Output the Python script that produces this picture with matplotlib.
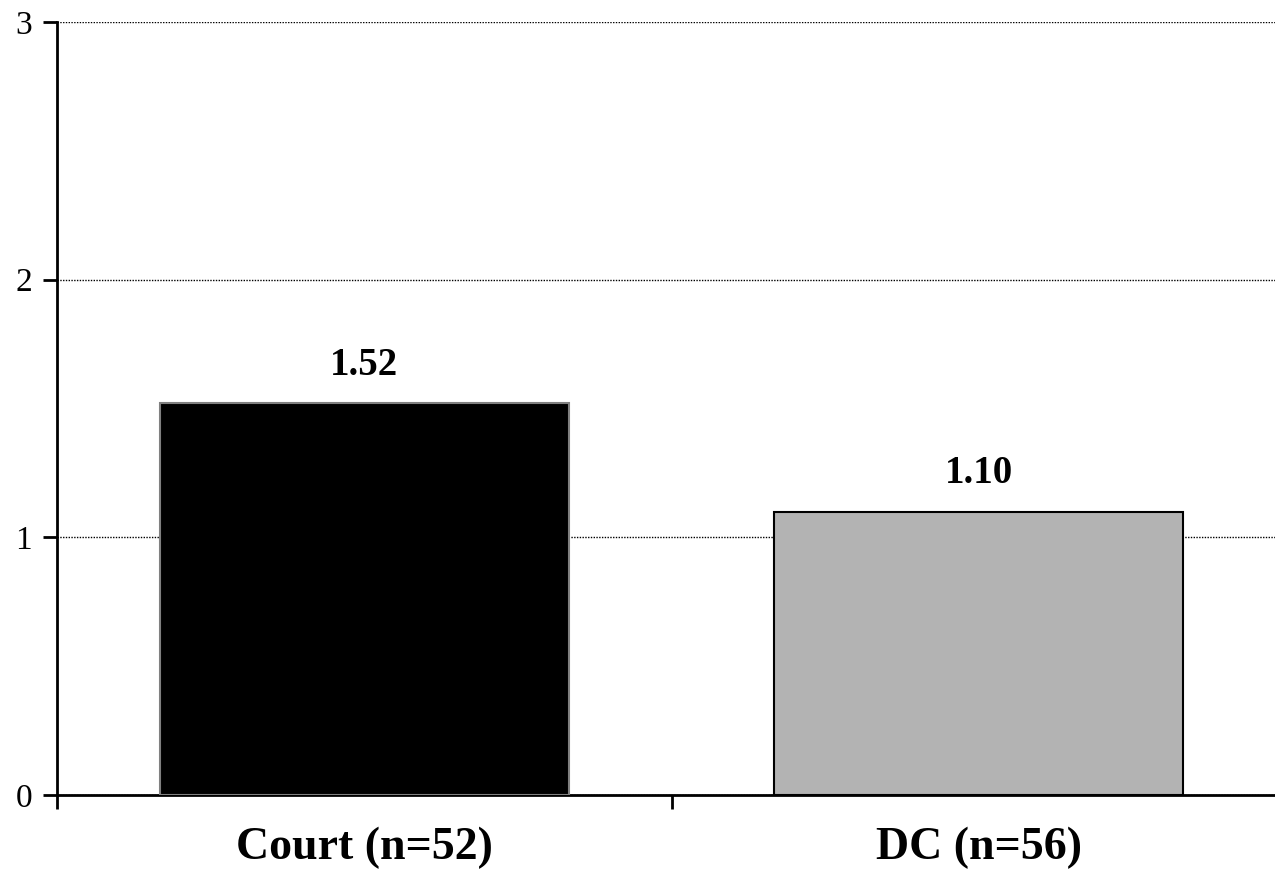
import matplotlib.pyplot as plt

plt.rcParams['font.family'] = ['Liberation Serif', 'DejaVu Serif']

# 数据
categories = ['Court (n=52)', 'DC (n=56)']
values = [1.52, 1.10]
bar_colors = ['#000000', '#b3b3b3']
edge_colors = ['#808080', '#000000']
value_labels = ['1.52', '1.10']
y_ticks = [0, 1, 2, 3]

fig = plt.figure(figsize=(12.75, 8.83), dpi=100)
ax = fig.add_axes([57 / 1275, 88 / 883, (1286 - 57) / 1275, (795 - 22) / 883])

x = list(range(len(categories)))
ax.bar(x, values, width=0.666, color=bar_colors, edgecolor=edge_colors, linewidth=1.5, zorder=3)

# 柱顶数值
for xi, v, lab in zip(x, values, value_labels):
    ax.text(xi, v + 0.109, lab, ha='center', va='baseline', fontsize=28, fontweight='bold')

ax.set_xlim(-0.5, 1.5)
ax.set_ylim(0, 3)
ax.set_yticks(y_ticks)
ax.set_yticklabels([str(t) for t in y_ticks], fontsize=24)
ax.yaxis.grid(True, linestyle=(0, (1, 1)), color='black', linewidth=1)
ax.set_axisbelow(True)

# x轴刻度在类别分界处
ax.set_xticks([-0.5, 0.5, 1.5])
ax.set_xticklabels([])
ax.tick_params(axis='x', direction='out', length=10, width=2)
ax.tick_params(axis='y', direction='out', length=10, width=2, pad=8)
for xi, c in zip(x, categories):
    ax.text(xi, -0.0828, c, ha='center', va='baseline', fontsize=33, fontweight='bold',
            transform=ax.get_xaxis_transform())

for s in ['top', 'right']:
    ax.spines[s].set_visible(False)
ax.spines['left'].set_linewidth(2)
ax.spines['bottom'].set_linewidth(2)

fig.savefig('out.png', dpi=100, facecolor='white')
